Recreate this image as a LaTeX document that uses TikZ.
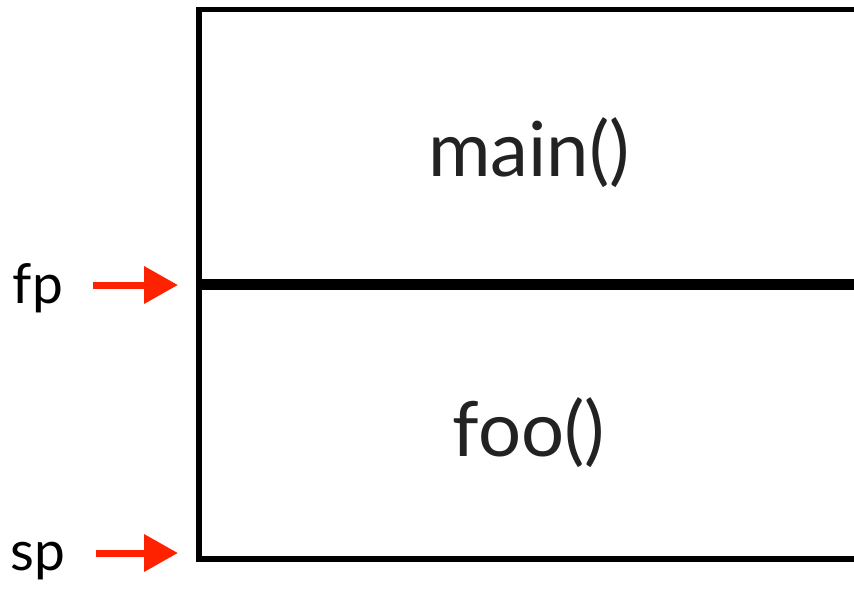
\documentclass[tikz,border=0pt]{standalone}
\usepackage{fontspec}
\setmainfont{Lato}
\usetikzlibrary{arrows.meta}
\definecolor{arrred}{HTML}{FF2200}
\definecolor{txtgray}{HTML}{222222}
\begin{document}
\begin{tikzpicture}[x=1pt,y=-1pt,
  frame/.style={draw=black,line width=5.5pt},
  lbl/.style={font=\fontsize{55}{55}\selectfont, text=black, inner sep=0pt, anchor=base},
  fn/.style={font=\fontsize{76}{76}\selectfont, text=txtgray, inner sep=0pt, anchor=base},
  ptr/.style={draw=arrred, line width=7pt, -{Triangle[length=34pt,width=36pt]}}]
\useasboundingbox (0,0) rectangle (854,592);
\clip (0,0) rectangle (854,592);
\draw[frame] (199,9.5) rectangle (900,282);
\draw[frame] (199,287.5) rectangle (900,559);
\node[fn] (mainfn) at (529,176) {main()};
\node[fn] (foofn) at (529,456) {foo()};
\node[lbl] (fp) at (38,303) {fp};
\node[lbl] (sp) at (38,570) {sp};
\coordinate (fpT) at (178,285);
\coordinate (spT) at (178,553);
\draw[ptr] ([xshift=30pt]fp.east |- fpT) -- (fpT);
\draw[ptr] ([xshift=30pt]sp.east |- spT) -- (spT);
\end{tikzpicture}
\end{document}
